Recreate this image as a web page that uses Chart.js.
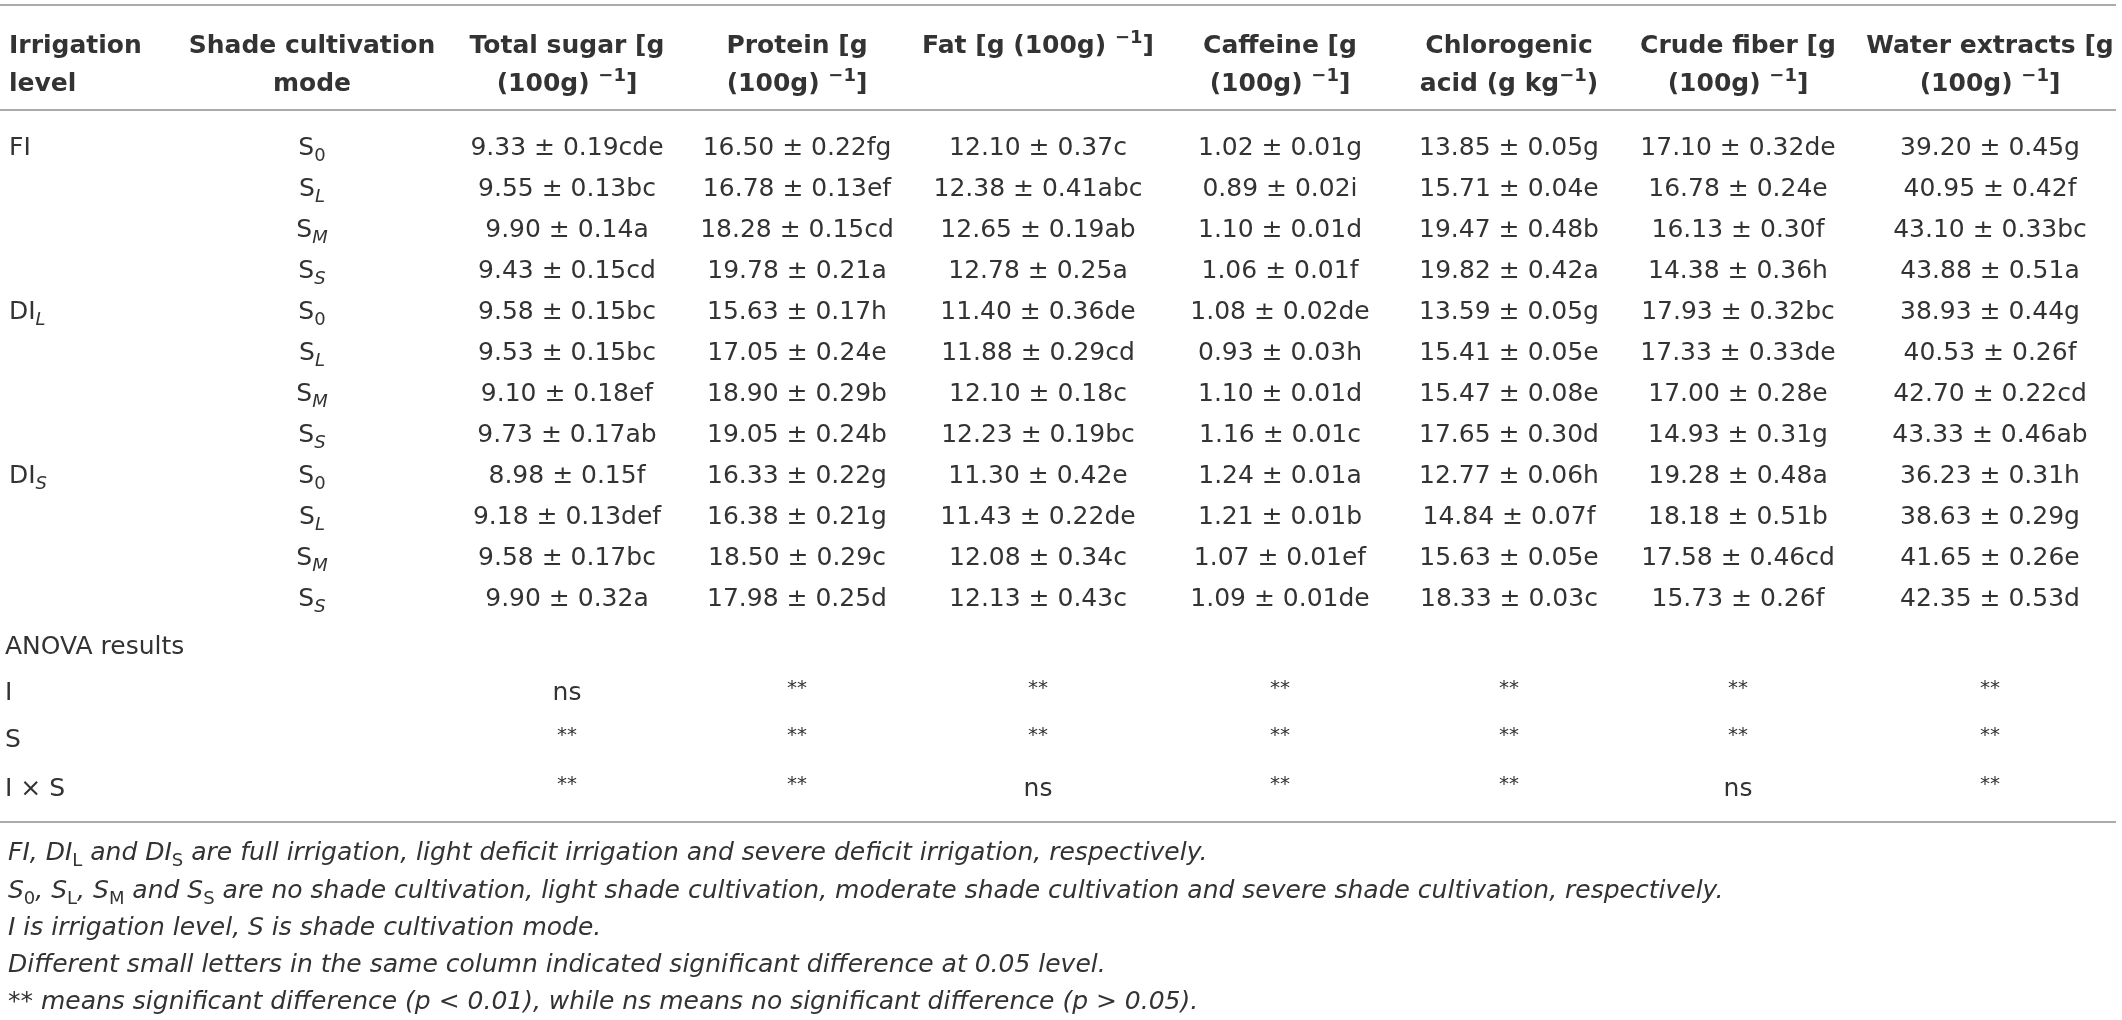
<!DOCTYPE html>
<html>
<head>
<meta charset="utf-8">
<script src="https://cdn.jsdelivr.net/npm/chart.js@4.4.1/dist/chart.umd.min.js"></script>
<style>
html,body{margin:0;padding:0;background:#ffffff;}
#wrap{width:2122px;height:1020px;position:relative;}
</style>
</head>
<body>
<div id="wrap"><canvas id="c" width="2122" height="1020"></canvas></div>
<script>
// ---------------- DATA ----------------
const irrigationLevels = ['FI', 'DI<sub><i>L</i></sub>', 'DI<sub><i>S</i></sub>'];
const shadeModes = ['S<sub>0</sub>', 'S<sub><i>L</i></sub>', 'S<sub><i>M</i></sub>', 'S<sub><i>S</i></sub>'];

const headerLine1 = ['Irrigation', 'Shade cultivation', 'Total sugar [g', 'Protein [g', 'Fat [g (100g) <sup>−1</sup>]', 'Caffeine [g', 'Chlorogenic', 'Crude fiber [g', 'Water extracts [g'];
const headerLine2 = ['level', 'mode', '(100g) <sup>−1</sup>]', '(100g) <sup>−1</sup>]', '', '(100g) <sup>−1</sup>]', 'acid (g kg<sup>−1</sup>)', '(100g) <sup>−1</sup>]', '(100g) <sup>−1</sup>]'];

const totalSugarMean = [9.33, 9.55, 9.90, 9.43, 9.58, 9.53, 9.10, 9.73, 8.98, 9.18, 9.58, 9.90];
const totalSugarSD   = [0.19, 0.13, 0.14, 0.15, 0.15, 0.15, 0.18, 0.17, 0.15, 0.13, 0.17, 0.32];
const totalSugarSig  = ['cde', 'bc', 'a', 'cd', 'bc', 'bc', 'ef', 'ab', 'f', 'def', 'bc', 'a'];

const proteinMean = [16.50, 16.78, 18.28, 19.78, 15.63, 17.05, 18.90, 19.05, 16.33, 16.38, 18.50, 17.98];
const proteinSD   = [0.22, 0.13, 0.15, 0.21, 0.17, 0.24, 0.29, 0.24, 0.22, 0.21, 0.29, 0.25];
const proteinSig  = ['fg', 'ef', 'cd', 'a', 'h', 'e', 'b', 'b', 'g', 'g', 'c', 'd'];

const fatMean = [12.10, 12.38, 12.65, 12.78, 11.40, 11.88, 12.10, 12.23, 11.30, 11.43, 12.08, 12.13];
const fatSD   = [0.37, 0.41, 0.19, 0.25, 0.36, 0.29, 0.18, 0.19, 0.42, 0.22, 0.34, 0.43];
const fatSig  = ['c', 'abc', 'ab', 'a', 'de', 'cd', 'c', 'bc', 'e', 'de', 'c', 'c'];

const caffeineMean = [1.02, 0.89, 1.10, 1.06, 1.08, 0.93, 1.10, 1.16, 1.24, 1.21, 1.07, 1.09];
const caffeineSD   = [0.01, 0.02, 0.01, 0.01, 0.02, 0.03, 0.01, 0.01, 0.01, 0.01, 0.01, 0.01];
const caffeineSig  = ['g', 'i', 'd', 'f', 'de', 'h', 'd', 'c', 'a', 'b', 'ef', 'de'];

const chlorogenicMean = [13.85, 15.71, 19.47, 19.82, 13.59, 15.41, 15.47, 17.65, 12.77, 14.84, 15.63, 18.33];
const chlorogenicSD   = [0.05, 0.04, 0.48, 0.42, 0.05, 0.05, 0.08, 0.30, 0.06, 0.07, 0.05, 0.03];
const chlorogenicSig  = ['g', 'e', 'b', 'a', 'g', 'e', 'e', 'd', 'h', 'f', 'e', 'c'];

const crudeFiberMean = [17.10, 16.78, 16.13, 14.38, 17.93, 17.33, 17.00, 14.93, 19.28, 18.18, 17.58, 15.73];
const crudeFiberSD   = [0.32, 0.24, 0.30, 0.36, 0.32, 0.33, 0.28, 0.31, 0.48, 0.51, 0.46, 0.26];
const crudeFiberSig  = ['de', 'e', 'f', 'h', 'bc', 'de', 'e', 'g', 'a', 'b', 'cd', 'f'];

const waterExtractsMean = [39.20, 40.95, 43.10, 43.88, 38.93, 40.53, 42.70, 43.33, 36.23, 38.63, 41.65, 42.35];
const waterExtractsSD   = [0.45, 0.42, 0.33, 0.51, 0.44, 0.26, 0.22, 0.46, 0.31, 0.29, 0.26, 0.53];
const waterExtractsSig  = ['g', 'f', 'bc', 'a', 'g', 'f', 'cd', 'ab', 'h', 'g', 'e', 'd'];

const anovaLabels = ['ANOVA results', 'I', 'S', 'I × S'];
const anovaI   = ['ns', '**', '**', '**', '**', '**', '**'];
const anovaS   = ['**', '**', '**', '**', '**', '**', '**'];
const anovaIxS = ['**', '**', 'ns', '**', '**', 'ns', '**'];

const footnotes = [
  'FI, DI<r><sub>L</sub></r> and DI<r><sub>S</sub></r> are full irrigation, light deficit irrigation and severe deficit irrigation, respectively.',
  'S<r><sub>0</sub></r>, S<r><sub>L</sub></r>, S<r><sub>M</sub></r> and S<r><sub>S</sub></r> are no shade cultivation, light shade cultivation, moderate shade cultivation and severe shade cultivation, respectively.',
  'I is irrigation level, S is shade cultivation mode.',
  'Different small letters in the same column indicated significant difference at 0.05 level.',
  '** means significant difference (p < 0.01), while ns means no significant difference (p > 0.05).'
];

// ---------------- LAYOUT (positions in scale units = px) ----------------
const colX = [9, 312, 567, 797, 1038, 1280, 1509, 1738, 1990];
const headerY = [44, 82];
const bodyY = [146, 187, 228, 269, 310, 351, 392, 433, 474, 515, 556, 597];
const anovaY = [645, 691, 738, 787];
const anovaLabelX = 5;
const footX = 8;
const footY = [851, 889, 926, 963, 1000];
const ruleY = [5, 110, 822];
const ruleXRange = [0, 2116];

const FONT = '"DejaVu Sans", "Liberation Sans", sans-serif';
const TEXT_COLOR = '#333333';

// ---------------- BUILD DATASETS ----------------
const fmt = (m, s, g) => m.toFixed(2) + ' ± ' + s.toFixed(2) + g;
const numericCols = [
  [totalSugarMean, totalSugarSD, totalSugarSig],
  [proteinMean, proteinSD, proteinSig],
  [fatMean, fatSD, fatSig],
  [caffeineMean, caffeineSD, caffeineSig],
  [chlorogenicMean, chlorogenicSD, chlorogenicSig],
  [crudeFiberMean, crudeFiberSD, crudeFiberSig],
  [waterExtractsMean, waterExtractsSD, waterExtractsSig]
];

const datasets = [];
function addSet(points, style) {
  datasets.push(Object.assign({ data: points, pointRadius: 0, pointHoverRadius: 0, showLine: false }, style));
}
// header
for (let c = 0; c < colX.length; c++) {
  const pts = [];
  if (headerLine1[c]) pts.push({ x: colX[c], y: headerY[0], text: headerLine1[c] });
  if (headerLine2[c]) pts.push({ x: colX[c], y: headerY[1], text: headerLine2[c] });
  addSet(pts, { tAlign: c === 0 ? 'left' : 'center', tSize: 25, tBold: true, tItalic: false });
}
// irrigation level column
addSet(irrigationLevels.map((t, i) => ({ x: colX[0], y: bodyY[i * 4], text: t })), { tAlign: 'left', tSize: 25 });
// shade mode column
addSet(bodyY.map((y, i) => ({ x: colX[1], y: y, text: shadeModes[i % 4] })), { tAlign: 'center', tSize: 25 });
// numeric columns
numericCols.forEach((col, k) => {
  addSet(bodyY.map((y, i) => ({ x: colX[k + 2], y: y, text: fmt(col[0][i], col[1][i], col[2][i]) })), { tAlign: 'center', tSize: 25 });
});
// anova labels
addSet(anovaLabels.map((t, i) => ({ x: anovaLabelX, y: anovaY[i], text: t })), { tAlign: 'left', tSize: 25 });
// anova values
[anovaI, anovaS, anovaIxS].forEach((row, r) => {
  addSet(row.map((t, k) => ({ x: colX[k + 2], y: anovaY[r + 1], text: t, stars: t === '**' })), { tAlign: 'center', tSize: 25 });
});
// footnotes
addSet(footnotes.map((t, i) => ({ x: footX, y: footY[i], text: t })), { tAlign: 'left', tSize: 25, tItalic: true });

// ---------------- RICH TEXT ----------------
function parseRich(str, baseItalic, baseBold) {
  const out = [];
  let state = { i: !!baseItalic, b: !!baseBold, sub: false, sup: false };
  const stack = [];
  const re = /<(\/?)(i|r|b|sub|sup)>/g;
  let last = 0, m;
  while ((m = re.exec(str))) {
    if (m.index > last) out.push(Object.assign({ t: str.slice(last, m.index) }, state));
    if (m[1] === '') {
      stack.push(Object.assign({}, state));
      state = Object.assign({}, state);
      if (m[2] === 'i') state.i = true;
      else if (m[2] === 'r') state.i = false;
      else if (m[2] === 'b') state.b = true;
      else if (m[2] === 'sub') state.sub = true;
      else if (m[2] === 'sup') state.sup = true;
    } else {
      state = stack.pop() || state;
    }
    last = re.lastIndex;
  }
  if (last < str.length) out.push(Object.assign({ t: str.slice(last) }, state));
  return out;
}

function drawRich(ctx, str, x, y, opt) {
  const size = opt.size;
  const segs = parseRich(str, opt.italic, opt.bold);
  let total = 0;
  segs.forEach(s => {
    const fs = (s.sub || s.sup) ? size * 0.72 : size;
    s.font = (s.i ? 'italic ' : '') + (s.b ? 'bold ' : '') + fs.toFixed(1) + 'px ' + FONT;
    ctx.font = s.font;
    s.w = ctx.measureText(s.t).width;
    total += s.w;
  });
  let cx = opt.align === 'center' ? x - total / 2 : (opt.align === 'right' ? x - total : x);
  const base = y + size * 0.36;
  segs.forEach(s => {
    ctx.font = s.font;
    let dy = 0;
    if (s.sub) dy = size * 0.24;
    if (s.sup) dy = -size * 0.40;
    ctx.fillText(s.t, cx, base + dy);
    cx += s.w;
  });
}

const tablePlugin = {
  id: 'tableText',
  afterDatasetsDraw(chart) {
    const ctx = chart.ctx;
    const xs = chart.scales.x, ys = chart.scales.y;
    ctx.save();
    ctx.strokeStyle = '#ababab';
    ctx.lineWidth = 2;
    ruleY.forEach(r => {
      const py = ys.getPixelForValue(r);
      ctx.beginPath();
      ctx.moveTo(xs.getPixelForValue(ruleXRange[0]), py);
      ctx.lineTo(xs.getPixelForValue(ruleXRange[1]), py);
      ctx.stroke();
    });
    ctx.fillStyle = TEXT_COLOR;
    ctx.textBaseline = 'alphabetic';
    ctx.textAlign = 'left';
    chart.data.datasets.forEach((ds, di) => {
      const meta = chart.getDatasetMeta(di);
      meta.data.forEach((el, i) => {
        const raw = ds.data[i];
        if (raw.stars) {
          drawRich(ctx, raw.text, el.x, el.y - 4, { size: 20, align: ds.tAlign });
        } else {
          drawRich(ctx, raw.text, el.x, el.y, { size: ds.tSize, bold: ds.tBold, italic: ds.tItalic, align: ds.tAlign });
        }
      });
    });
    ctx.restore();
  }
};

new Chart(document.getElementById('c'), {
  type: 'scatter',
  data: { datasets: datasets },
  options: {
    responsive: false,
    maintainAspectRatio: false,
    animation: false,
    devicePixelRatio: 1,
    layout: { padding: 0 },
    plugins: { legend: { display: false }, tooltip: { enabled: false } },
    events: [],
    scales: {
      x: { type: 'linear', min: 0, max: 2122, display: false },
      y: { type: 'linear', min: 0, max: 1020, reverse: true, display: false }
    }
  },
  plugins: [tablePlugin]
});
</script>
</body>
</html>
